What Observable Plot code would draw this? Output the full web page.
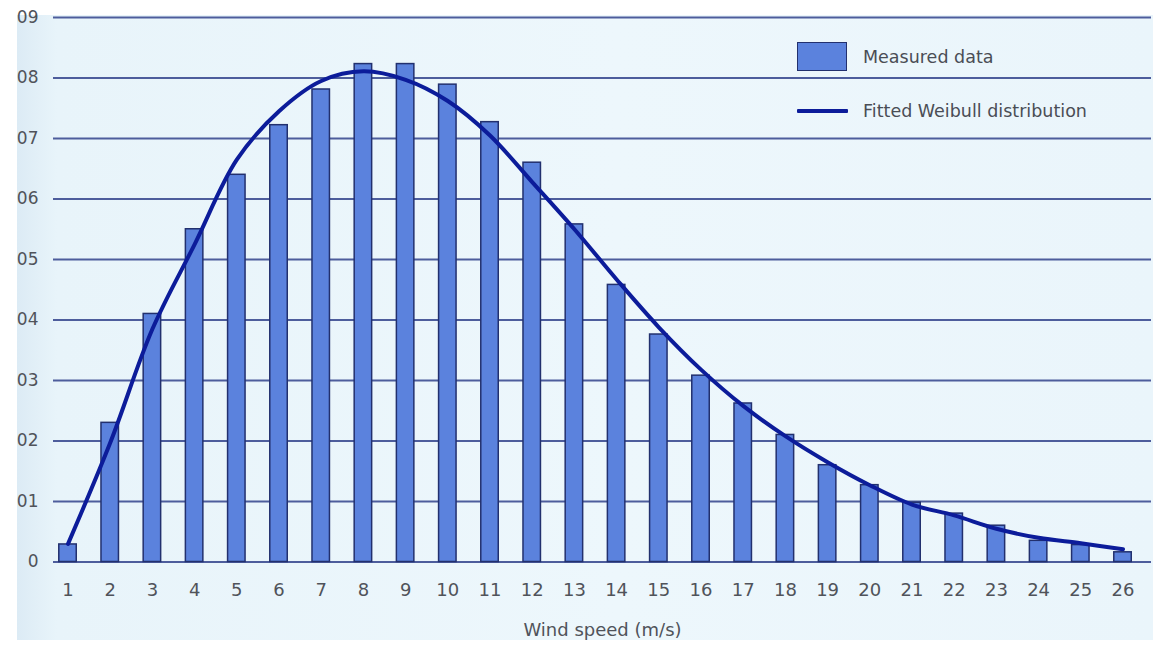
<!DOCTYPE html>
<html>
<head>
<meta charset="utf-8">
<script src="https://cdn.jsdelivr.net/npm/d3@7"></script>
<script src="https://cdn.jsdelivr.net/npm/@observablehq/plot@0.6"></script>
<style>
  html, body { margin: 0; padding: 0; background: #ffffff; }
  #wrap { position: relative; width: 1153px; height: 649px; overflow: hidden; background: #ffffff; font-family: "DejaVu Sans", sans-serif; }
  #bg { position: absolute; left: 17px; top: 15px; width: 1136px; height: 625px;
        background: linear-gradient(to right, #dcebf5 0px, #e8f4fa 40px, #edf7fc 600px, #eaf5fb 100%); }
  #chart { position: absolute; left: 0; top: 0; }
  .lg { position: absolute; color: #4a4d55; font-size: 17.5px; line-height: 1; white-space: nowrap; }
  .sw-bar { position: absolute; left: 797px; top: 42px; width: 48px; height: 27px; background: #5b82dd; border: 1.5px solid #22306e; }
  .sw-line { position: absolute; left: 797px; top: 109px; width: 51px; height: 4px; background: #0c1c9a; border-radius: 1px; }
</style>
</head>
<body>
<div id="wrap">
  <div id="bg"></div>
  <div id="chart"></div>
  <div class="sw-bar"></div>
  <div class="lg" style="left:863px; top:49px;">Measured data</div>
  <div class="sw-line"></div>
  <div class="lg" style="left:863px; top:103px;">Fitted Weibull distribution</div>
</div>
<script>
// Wind speed categories (m/s)
const speeds = [1, 2, 3, 4, 5, 6, 7, 8, 9, 10, 11, 12, 13, 14, 15, 16, 17, 18, 19, 20, 21, 22, 23, 24, 25, 26];
const speedLabels = ["1","2","3","4","5","6","7","8","9","10","11","12","13","14","15","16","17","18","19","20","21","22","23","24","25","26"];
// Measured data (bars)
const measured = [0.0029, 0.0230, 0.0410, 0.0550, 0.0640, 0.0722, 0.0781, 0.0823, 0.0823, 0.0789,
                  0.0727, 0.0660, 0.0558, 0.0458, 0.0376, 0.0308, 0.0262, 0.0210, 0.0160, 0.0127,
                  0.0098, 0.0080, 0.0060, 0.0035, 0.0028, 0.0016];
// Fitted Weibull distribution (line)
const fitted = [0.0030, 0.0197, 0.0385, 0.0525, 0.0665, 0.0745, 0.0795, 0.0811, 0.0797, 0.0762,
                0.0705, 0.0628, 0.0550, 0.0467, 0.0388, 0.0318, 0.0258, 0.0208, 0.0165, 0.0127,
                0.0095, 0.0077, 0.0055, 0.0040, 0.0031, 0.0021];
// Y ticks and their (cropped) labels as visible
const yTicks = [0, 0.01, 0.02, 0.03, 0.04, 0.05, 0.06, 0.07, 0.08, 0.09];
const yLabels = ["0", "01", "02", "03", "04", "05", "06", "07", "08", "09"];

const data = speeds.map((s, i) => ({speed: s, measured: measured[i], fitted: fitted[i]}));
const halfBar = 0.207;

const chart = Plot.plot({
  width: 1153,
  height: 649,
  marginLeft: 53,
  marginRight: 2,
  marginTop: 17,
  marginBottom: 87.5,
  style: {background: "transparent", fontFamily: "DejaVu Sans, sans-serif", fontSize: "18px", color: "#50535a", overflow: "visible"},
  x: {type: "linear", domain: [0.656, 26.675]},
  y: {domain: [0, 0.09]},
  marks: [
    Plot.ruleY(yTicks, {stroke: "#4d5d9c", strokeWidth: 2}),
    Plot.rectY(data, {x1: d => d.speed - halfBar, x2: d => d.speed + halfBar, y1: 0, y2: "measured",
                      fill: "#5b82dd", stroke: "#22306e", strokeWidth: 1.5}),
    Plot.line(data, {x: "speed", y: "fitted", curve: "catmull-rom", stroke: "#0c1c9a", strokeWidth: 4,
                     strokeLinejoin: "round", strokeLinecap: "round"}),
    Plot.axisX({ticks: speeds, tickFormat: d => speedLabels[speeds.indexOf(d)], tickSize: 0, tickPadding: 21,
                fontSize: 18, label: "Wind speed (m/s)", labelAnchor: "center", labelArrow: "none", labelOffset: 74}),
    Plot.axisY({ticks: yTicks, tickFormat: d => yLabels[yTicks.indexOf(d)], tickSize: 0, tickPadding: 15,
                fontSize: 17, label: null})
  ]
});
document.getElementById("chart").appendChild(chart);
</script>
</body>
</html>
